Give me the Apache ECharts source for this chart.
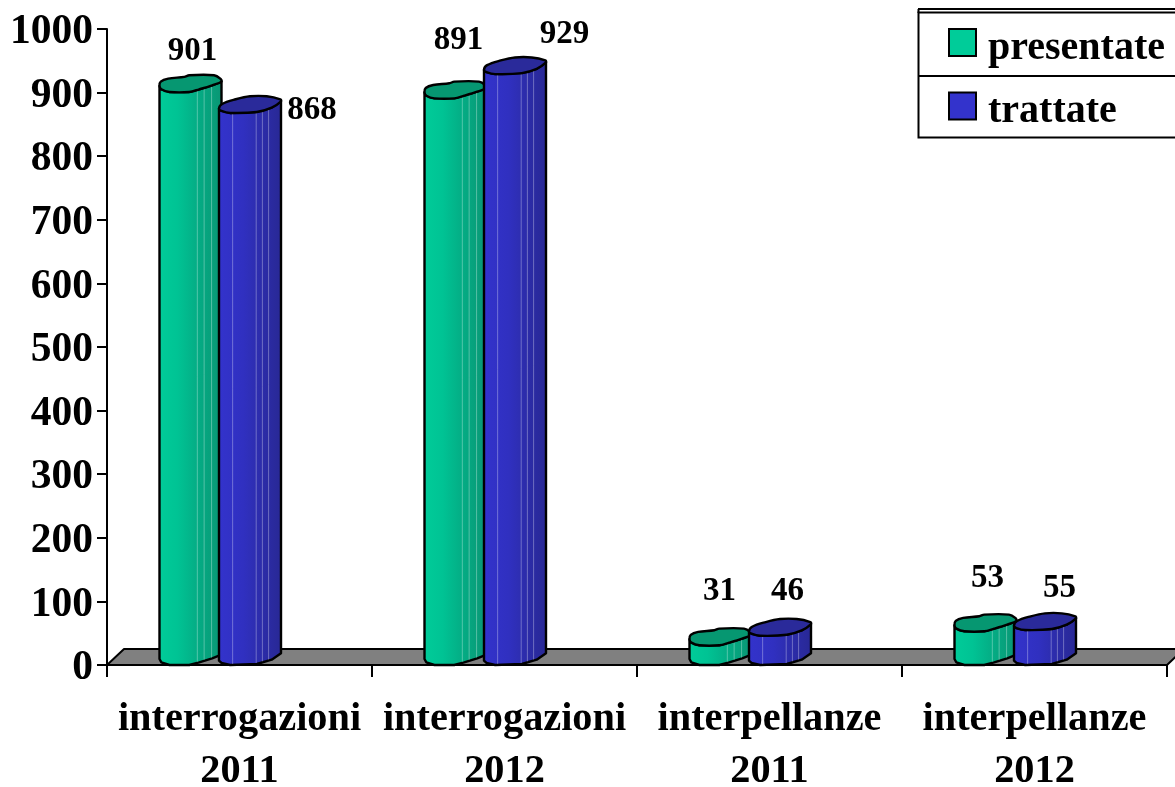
<!DOCTYPE html>
<html><head><meta charset="utf-8">
<style>html,body{margin:0;padding:0;background:#fff}#c{width:1175px;height:787px}</style>
<script src="https://cdn.jsdelivr.net/npm/echarts@6/dist/echarts.min.js"></script>
</head><body><div id="c"></div>
<script>
const categories = ['interrogazioni\n2011','interrogazioni\n2012','interpellanze\n2011','interpellanze\n2012'];
const presentate = [901, 891, 31, 53];
const trattate = [868, 929, 46, 55];
const yTicks = {min:0, max:1000, interval:100};

const FONT = '"Liberation Serif","Times New Roman",serif';
const presentateLabelOffset = [[-47,-40.5],[-46,-57.5],[-50,-53.5],[-47,-52.5]];
const trattateLabelOffset = [[72.5,-2.5],[60,-39.5],[18,-44.5],[25,-41.5]];

// outlines of the cylinder's elliptic cap, in fractions of its width / height
const greenCap = [[0,.64],[.02,.38],[.14,.2],[.40,.1],[.48,0],[.88,0],[.98,.2],[1,.38],[.85,.60],[.64,.84],[.48,1],[.16,1],[.03,.84]];
const blueCap = [[0,.74],[.05,.46],[.27,.18],[.50,0],[.77,0],[.99,.18],[1,.30],[.85,.68],[.61,.94],[.18,1],[.04,.88]];
const CAP_W = 62, CAP_H = 16.7;

function cylinder(spec){
  return function(params, api){
    const i = api.value(0), v = api.value(1);
    const p = api.coord([i, v]), base = api.coord([i, 0]);
    const x0 = p[0] + spec.dx, yTop = p[1] - CAP_H, yBase = base[1] - CAP_H;
    const pts = spec.cap.map(q => [x0 + q[0]*CAP_W, q[1]*CAP_H]);
    const iR = spec.cap.findIndex(q => q[0] === 1);
    const lower = [pts[0]].concat(pts.slice(iR + 1).reverse()).concat([pts[iR]]);
    const body = lower.map(q => [q[0], q[1] + yTop]).concat(lower.slice().reverse().map(q => [q[0], q[1] + yBase]));
    const lines = spec.stripes.map(f => {
      const x = x0 + f*CAP_W;
      let dy = 0;
      for (let k=0;k<lower.length-1;k++){ if (x>=lower[k][0] && x<=lower[k+1][0]) { const t=(x-lower[k][0])/((lower[k+1][0]-lower[k][0])||1); dy = lower[k][1]+t*(lower[k+1][1]-lower[k][1]); break; } }
      return {type:'line', shape:{x1:x, y1:dy+yTop+1, x2:x, y2:dy+yBase-1}, style:{stroke:'rgba(255,255,255,0.32)', lineWidth:1}};
    });
    const off = spec.labelOffset[i];
    return {type:'group', children:[
      {type:'polygon', shape:{points:body}, style:{
        fill:new echarts.graphic.LinearGradient(0,0,1,0,spec.stops), stroke:'#000', lineWidth:2.4, lineJoin:'round'}},
      ...lines,
      {type:'polygon', shape:{points:pts.map(q=>[q[0], q[1]+yTop]), smooth:0.35}, style:{fill:spec.capColor, stroke:'#000', lineWidth:2.4}},
      {type:'text', style:{text:String(v), x:p[0]+off[0], y:p[1]+off[1], textAlign:'center', textVerticalAlign:'middle',
        font:'bold 33px '+FONT, fill:'#000'}}
    ]};
  };
}

const floorItem = (params, api) => {
  const band = api.size([1,0])[0];
  const a = api.coord([0,0]), xl = a[0]-band/2, xr = a[0]+band*3.5, y = a[1];
  return {type:'polygon', shape:{points:[[xl,y],[xl+17,y-16],[xr+17,y-16],[xr,y]]},
    style:{fill:'#808080', stroke:'#000', lineWidth:2, lineJoin:'round'}};
};

const chart = echarts.init(document.getElementById('c'), null, {renderer:'canvas'});
chart.setOption({
  animation:false,
  backgroundColor:'#fff',
  grid:{left:107, right:8, top:29, bottom:122, containLabel:false, outerBoundsMode:'none'},
  xAxis:{type:'category', data:categories,
    axisLine:{show:true, onZero:false, lineStyle:{color:'#000', width:2}},
    axisTick:{show:true, length:12, alignWithLabel:false, lineStyle:{color:'#000', width:2}},
    axisLabel:{interval:0, color:'#000', fontFamily:FONT, fontWeight:'bold', fontSize:40.3, lineHeight:52, margin:29, hideOverlap:false},
    z:1},
  yAxis:{type:'value', min:yTicks.min, max:yTicks.max, interval:yTicks.interval,
    axisLine:{show:true, lineStyle:{color:'#000', width:2}},
    axisTick:{show:true, length:10, lineStyle:{color:'#000', width:2}},
    splitLine:{show:false},
    axisLabel:{color:'#000', fontFamily:FONT, fontWeight:'bold', fontSize:41.5, margin:14, hideOverlap:false,
      formatter:v=>'{v|'+v+'}',
      rich:{v:{color:'#000', fontFamily:FONT, fontWeight:'bold', fontSize:41.5, padding:[7,0,0,0]}}}},
  legend:{show:true, orient:'vertical', left:948, top:28, padding:0, itemWidth:27, itemHeight:27, itemGap:23,
    icon:'rect', data:['presentate','trattate'], selectedMode:false,
    formatter:name=>'{t|'+name+'}',
    textStyle:{color:'#000', fontFamily:FONT, fontWeight:'bold', fontSize:40,
      rich:{t:{color:'#000', fontFamily:FONT, fontWeight:'bold', fontSize:40, padding:[12,0,0,7]}}}},
  graphic:[
    {type:'rect', silent:true, z:0, shape:{x:918.5,y:12.5,width:270,height:125}, style:{fill:'#fff', stroke:'#000', lineWidth:2}},
    {type:'line', silent:true, z:0, shape:{x1:918,y1:9,x2:1175,y2:9}, style:{stroke:'#000', lineWidth:2}},
    {type:'line', silent:true, z:0, shape:{x1:918.5,y1:9,x2:918.5,y2:13}, style:{stroke:'#000', lineWidth:2}},
    {type:'line', silent:true, z:0, shape:{x1:918,y1:76,x2:1175,y2:76}, style:{stroke:'#000', lineWidth:2}}
  ],
  series:[
    {name:'floor', type:'custom', coordinateSystem:'cartesian2d', clip:false, z:2, silent:true,
      data:[[0,0]], encode:{x:0,y:1}, renderItem:floorItem},
    {name:'presentate', type:'custom', coordinateSystem:'cartesian2d', clip:false, z:3,
      itemStyle:{color:'#00CC99', borderColor:'#000', borderWidth:2},
      data:presentate.map((v,i)=>[i,v]), encode:{x:0,y:1},
      renderItem:cylinder({dx:-80, cap:greenCap, capColor:'#069771', labelOffset:presentateLabelOffset,
        stripes:[.61,.72,.84],
        stops:[{offset:0,color:'#00CC99'},{offset:.3,color:'#00C394'},{offset:.6,color:'#04AD85'},{offset:1,color:'#0A9573'}]})},
    {name:'trattate', type:'custom', coordinateSystem:'cartesian2d', clip:false, z:4,
      itemStyle:{color:'#3333CC', borderColor:'#000', borderWidth:2},
      data:trattate.map((v,i)=>[i,v]), encode:{x:0,y:1},
      renderItem:cylinder({dx:-20.5, cap:blueCap, capColor:'#2A2A9A', labelOffset:trattateLabelOffset,
        stripes:[.22,.6,.7,.8],
        stops:[{offset:0,color:'#3333CC'},{offset:.4,color:'#3030C0'},{offset:.7,color:'#2C2CA8'},{offset:1,color:'#282894'}]})}
  ]
});
</script></body></html>
